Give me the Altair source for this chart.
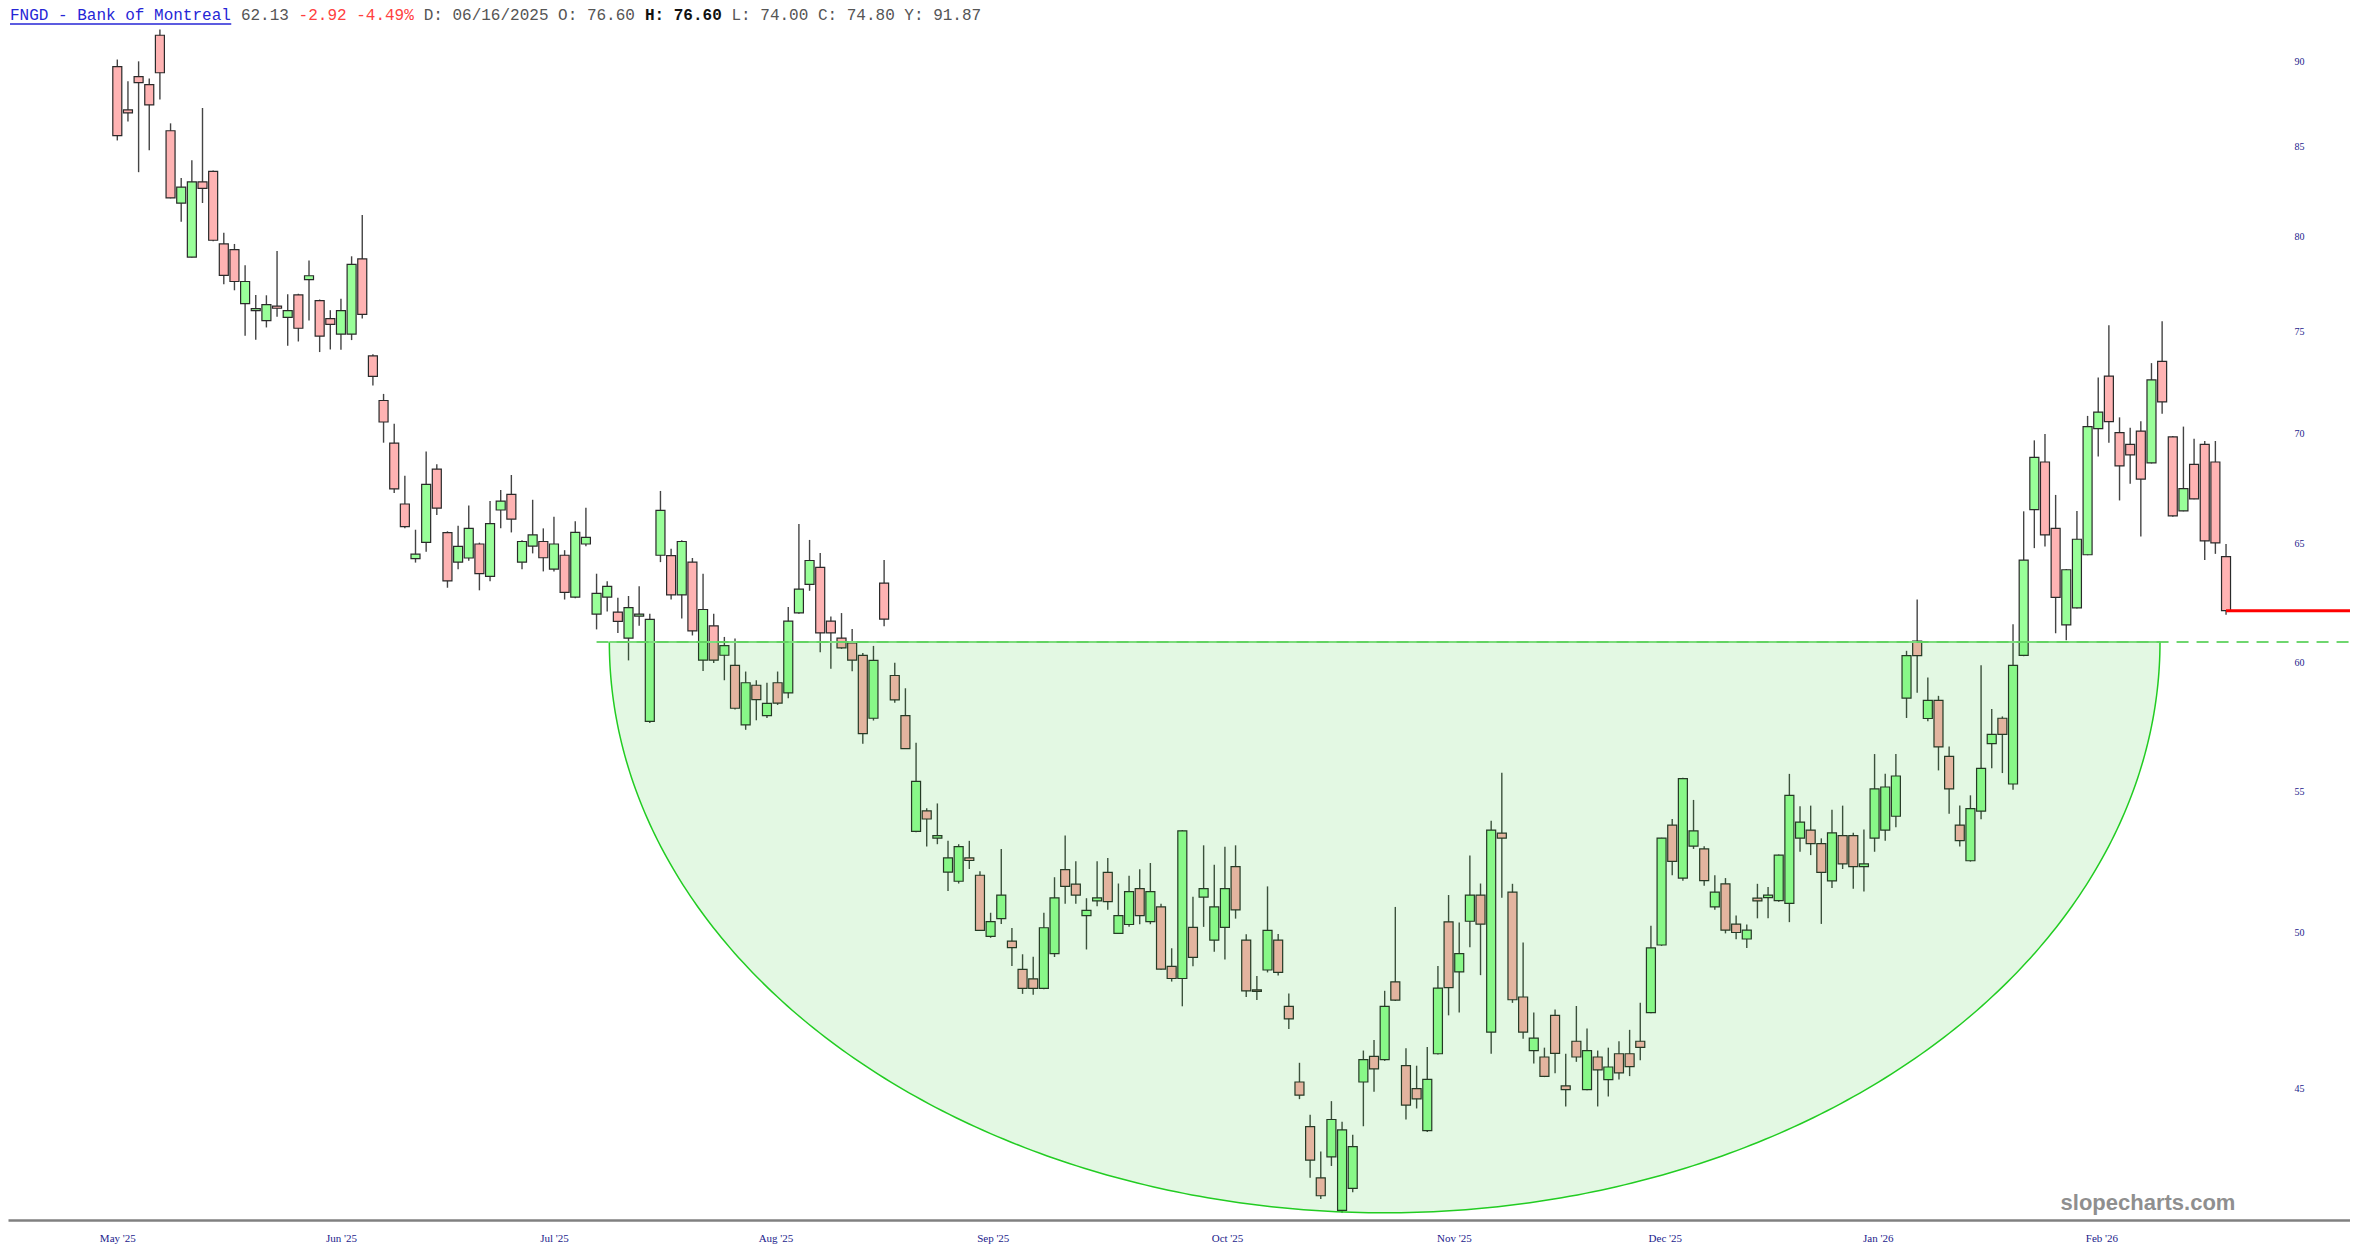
import numpy as np
import pandas as pd
import altair as alt

# ---------------- data ----------------
opens = [89.70, 87.12, 89.10, 88.62, 91.62, 85.90, 81.80, 78.88, 82.99, 83.58,
         79.58, 79.28, 76.44, 76.08, 75.57, 76.31, 75.73, 76.89, 77.69, 76.59,
         75.67, 74.88, 74.88, 78.78, 73.79, 71.60, 69.57, 66.77, 64.35, 65.06,
         68.36, 65.49, 64.20, 64.38, 64.99, 63.59, 66.50, 67.20, 64.20, 64.90,
         65.10, 63.90, 64.50, 62.70, 64.99, 61.99, 62.70, 62.07, 60.99, 61.90,
         57.66, 64.50, 64.48, 62.80, 64.20, 60.09, 61.50, 60.29, 59.88, 57.52,
         59.08, 57.88, 59.18, 58.78, 62.04, 63.24, 63.97, 61.69, 60.99, 60.79,
         60.28, 57.78, 63.30, 59.47, 57.88, 53.53, 54.28, 53.29, 52.08, 51.76,
         52.58, 51.97, 49.87, 50.47, 49.71, 48.77, 48.46, 48.15, 49.29, 52.17,
         51.66, 50.57, 51.08, 52.07, 49.97, 50.27, 51.50, 50.37, 50.87, 48.87,
         48.47, 50.17, 51.21, 49.74, 50.17, 52.27, 49.74, 48.10, 48.75, 49.74,
         47.57, 45.20, 43.86, 42.37, 42.97, 41.45, 42.07, 45.20, 45.99, 45.89,
         48.36, 45.70, 45.00, 43.74, 46.07, 50.36, 48.69, 50.38, 51.28, 46.75,
         53.47, 51.38, 47.87, 46.17, 45.97, 47.28, 45.08, 46.46, 44.97, 45.97,
         45.27, 46.07, 46.07, 46.46, 47.37, 49.58, 53.76, 51.87, 53.00, 52.90,
         50.87, 51.67, 50.28, 49.78, 51.17, 51.19, 51.09, 50.99, 53.29, 53.58,
         53.09, 51.77, 53.38, 53.38, 52.27, 53.29, 53.58, 54.08, 58.57, 60.87,
         57.77, 58.48, 56.31, 53.76, 52.48, 54.27, 56.80, 57.78, 55.27, 60.28,
         66.52, 68.69, 65.68, 61.54, 62.25, 64.52, 70.25, 72.79, 70.06, 69.51,
         70.14, 68.65, 73.52, 69.86, 66.46, 68.58, 69.51, 68.69, 64.44]
highs = [90.13, 88.82, 90.02, 88.98, 91.97, 86.33, 83.20, 84.20, 87.23, 83.62,
         80.19, 79.58, 78.45, 76.89, 76.87, 79.20, 76.93, 76.95, 78.70, 76.65,
         76.10, 76.69, 78.92, 81.15, 73.87, 71.92, 70.48, 68.06, 65.62, 69.18,
         68.59, 65.55, 65.80, 66.70, 65.05, 66.90, 67.40, 68.09, 65.15, 66.96,
         65.68, 66.20, 64.72, 66.00, 66.60, 63.70, 63.38, 62.68, 62.75, 63.16,
         62.00, 67.36, 64.78, 65.15, 64.38, 63.70, 62.00, 61.04, 60.97, 59.63,
         59.28, 59.18, 59.63, 62.28, 65.87, 65.17, 64.60, 61.89, 62.03, 61.37,
         60.38, 60.67, 64.29, 59.98, 58.96, 56.83, 54.37, 54.55, 53.19, 53.07,
         53.19, 52.11, 50.67, 52.90, 50.15, 49.27, 49.19, 50.67, 51.90, 53.38,
         52.46, 51.17, 52.46, 52.58, 51.68, 51.95, 52.18, 52.40, 50.98, 49.47,
         53.58, 51.22, 53.03, 52.34, 52.98, 53.03, 49.94, 48.55, 51.58, 49.95,
         47.98, 45.79, 44.21, 43.13, 44.62, 44.00, 43.62, 46.17, 46.50, 48.07,
         50.87, 46.24, 45.70, 46.28, 48.88, 51.28, 50.34, 52.67, 51.68, 53.92,
         55.69, 51.67, 49.66, 47.37, 46.26, 47.47, 46.07, 47.58, 46.86, 46.17,
         46.26, 46.46, 46.82, 47.68, 50.23, 53.30, 53.98, 55.50, 54.68, 53.00,
         51.97, 51.87, 50.58, 50.27, 51.67, 51.56, 52.70, 55.65, 54.45, 54.47,
         53.28, 54.32, 54.47, 53.48, 53.60, 56.40, 55.65, 56.40, 60.47, 62.60,
         59.39, 58.66, 56.69, 54.47, 54.85, 59.88, 58.14, 57.85, 61.56, 66.44,
         69.70, 70.00, 67.18, 63.90, 66.45, 70.86, 72.72, 75.33, 70.79, 70.30,
         70.60, 73.43, 75.53, 69.90, 70.35, 69.77, 69.67, 69.67, 64.99]
lows = [85.34, 86.44, 83.53, 84.78, 87.73, 82.07, 80.78, 78.86, 81.81, 79.72,
        77.45, 77.13, 74.80, 74.60, 75.22, 75.77, 74.29, 74.51, 75.57, 73.98,
        74.11, 74.09, 74.58, 75.67, 72.33, 69.59, 67.27, 65.68, 64.18, 64.65,
        66.28, 63.10, 63.89, 64.26, 62.99, 63.38, 65.68, 65.50, 63.89, 64.58,
        63.80, 63.80, 62.60, 62.65, 64.89, 61.35, 62.10, 61.20, 60.08, 61.50,
        57.59, 64.20, 62.60, 61.80, 61.10, 59.65, 59.97, 59.28, 58.12, 57.33,
        57.70, 57.79, 58.30, 58.56, 62.00, 62.97, 60.41, 59.74, 60.55, 59.64,
        56.79, 57.69, 61.48, 58.39, 56.60, 53.50, 52.99, 53.07, 51.42, 51.68,
        52.19, 50.05, 49.82, 50.29, 48.88, 47.97, 47.94, 48.12, 49.18, 50.98,
        50.98, 49.43, 50.89, 50.77, 49.95, 50.19, 50.28, 50.28, 48.76, 48.37,
        47.57, 48.87, 50.19, 49.35, 49.10, 50.47, 47.87, 47.77, 48.67, 48.57,
        46.85, 44.68, 42.37, 41.77, 42.71, 41.38, 41.96, 43.87, 44.90, 45.85,
        47.74, 44.07, 44.40, 43.70, 46.05, 47.28, 47.37, 49.50, 48.58, 46.07,
        51.19, 47.68, 46.54, 45.77, 45.35, 45.47, 44.46, 45.82, 44.95, 44.46,
        44.76, 45.28, 45.38, 45.87, 47.35, 49.55, 51.97, 51.78, 52.90, 51.60,
        50.77, 49.97, 49.77, 49.48, 50.48, 50.48, 51.05, 50.35, 52.80, 52.68,
        50.29, 51.52, 52.19, 51.50, 51.40, 52.80, 53.19, 53.68, 57.79, 58.78,
        57.66, 55.78, 54.17, 52.99, 52.45, 53.97, 55.86, 55.68, 55.06, 60.25,
        64.81, 64.88, 61.19, 60.90, 62.22, 64.50, 68.95, 69.59, 66.93, 67.69,
        65.32, 68.62, 70.96, 66.20, 66.44, 66.98, 64.29, 64.56, 61.96]
closes = [85.62, 86.94, 88.73, 87.41, 89.33, 82.09, 82.69, 82.99, 82.62, 79.78,
          77.91, 77.59, 77.59, 76.18, 76.39, 76.20, 76.08, 75.18, 77.89, 74.78,
          75.38, 76.08, 78.49, 75.89, 72.78, 70.57, 67.45, 65.76, 64.55, 67.66,
          66.58, 63.39, 64.89, 65.68, 63.70, 65.89, 66.90, 66.09, 65.10, 65.39,
          64.39, 64.99, 62.90, 65.50, 65.28, 62.86, 63.16, 61.68, 62.26, 61.99,
          61.77, 66.48, 62.80, 65.10, 61.29, 62.18, 60.09, 60.68, 58.17, 59.18,
          58.51, 58.36, 58.37, 61.69, 63.04, 64.27, 61.21, 61.21, 60.59, 60.09,
          57.18, 60.08, 61.78, 58.50, 56.61, 55.37, 53.98, 53.38, 52.58, 52.98,
          52.49, 50.07, 50.37, 51.28, 49.49, 48.15, 48.15, 50.16, 51.18, 51.58,
          51.28, 50.75, 51.18, 51.05, 50.57, 51.40, 50.57, 51.40, 48.78, 48.47,
          53.55, 49.17, 51.50, 50.87, 51.50, 50.77, 48.07, 48.05, 50.07, 48.67,
          47.17, 44.80, 42.88, 41.86, 44.07, 43.76, 43.27, 45.89, 45.60, 47.57,
          47.77, 44.50, 44.69, 45.28, 48.16, 48.17, 49.29, 51.28, 50.28, 53.58,
          53.29, 47.78, 46.75, 46.56, 45.37, 46.08, 44.97, 45.97, 46.17, 45.57,
          45.66, 45.48, 45.67, 46.27, 49.48, 53.29, 52.46, 55.47, 53.55, 51.78,
          51.38, 50.08, 50.00, 50.08, 51.08, 51.28, 52.68, 54.85, 53.87, 53.09,
          52.07, 53.48, 52.37, 52.27, 52.37, 55.09, 55.16, 55.57, 60.27, 60.27,
          58.48, 56.67, 55.09, 53.20, 54.36, 55.86, 57.15, 57.15, 59.88, 64.29,
          68.90, 65.39, 62.69, 63.87, 65.20, 70.35, 71.04, 70.59, 68.51, 69.02,
          67.90, 72.60, 71.53, 66.24, 67.47, 67.00, 65.13, 65.04, 62.13]

# x-axis month labels and the bar index where each one sits
month_labels = ["May '25", "Jun '25", "Jul '25", "Aug '25", "Sep '25",
                "Oct '25", "Nov '25", "Dec '25", "Jan '26", "Feb '26"]
month_pos = [0, 21, 41, 61.8, 82.2, 104.2, 125.5, 145.3, 165.3, 186.3]
price_ticks = [45, 50, 55, 60, 65, 70, 75, 80, 85, 90]

# annotations
neckline = 60.83          # dashed resistance level
last_close = 62.13
bowl_left, bowl_right = 46.2, 191.8
bowl_bottom = 41.38
dash_start = 45.0

# ---------------- layout ----------------
W, H = 2342, 1212
X_DOMAIN = [-10.263, 209.64]
Y_DOMAIN = [41.18, 93.32]

xs = alt.Scale(domain=X_DOMAIN, nice=False, zero=False, padding=0)
ys = alt.Scale(type="log", domain=Y_DOMAIN, nice=False, zero=False)

df = pd.DataFrame({"idx": np.arange(len(opens)), "open": opens, "high": highs,
                   "low": lows, "close": closes})
df["up"] = df["close"] >= df["open"]

label_expr = " : ".join(
    f'datum.value == {p} ? "{l}"' for p, l in zip(month_pos, month_labels)
) + ' : ""'

x_axis = alt.Axis(values=month_pos, labelExpr=label_expr, grid=False, ticks=False,
                  tickSize=0, domain=True, domainColor="#808080", domainWidth=2.5,
                  labelFont="Liberation Serif", labelFontSize=11, labelColor="#1c1c8c",
                  labelPadding=12, title=None, labelFlush=False, labelOverlap=False,
                  orient="bottom")
y_axis = alt.Axis(values=price_ticks, orient="right", offset=-58, grid=False, ticks=False,
                  tickSize=0, domain=False, labelFont="Liberation Serif", labelFontSize=10,
                  labelColor="#1c1c8c", labelPadding=2, labelAlign="left", title=None,
                  labelOverlap=False)


def X(field):
    return alt.X(field, type="quantitative", scale=xs, axis=x_axis)


def Y(field):
    return alt.Y(field, type="quantitative", scale=ys, axis=y_axis)


base = alt.Chart(df)

wicks = base.mark_rule(color="#444444", strokeWidth=1.4).encode(
    x=X("idx"), y=Y("low"), y2="high")

bodies = base.mark_bar(size=9, stroke="#2a2a2a", strokeWidth=1.2).encode(
    x=X("idx"), y=Y("open"), y2="close",
    fill=alt.condition("datum.up", alt.value("#99ff99"), alt.value("#ffb3b3")),
)

# bowl (half ellipse in screen space, computed from its bounding parameters)
t = np.linspace(0, np.pi, 301)
cx = (bowl_left + bowl_right) / 2
ax_ = (bowl_right - bowl_left) / 2
lt, lb = np.log(neckline), np.log(bowl_bottom)
bowl = pd.DataFrame({
    "bx": cx - ax_ * np.cos(t),
    "by": np.exp(lt - (lt - lb) * np.sin(t)),
    "btop": neckline,
})

bowl_fill = alt.Chart(bowl).mark_area(color="#00be00", opacity=0.11).encode(
    x=X("bx"), y=Y("by"), y2="btop")
bowl_line = alt.Chart(bowl).mark_line(color="#22cc22", strokeWidth=1.5).encode(
    x=X("bx"), y=Y("by"))

lines_df = pd.DataFrame({
    "x1": [bowl_left, dash_start, len(opens) - 1],
    "x2": [bowl_right, X_DOMAIN[1], X_DOMAIN[1]],
    "y": [neckline, neckline, last_close],
    "kind": ["chord", "dash", "last"],
})
chord = alt.Chart(lines_df).transform_filter("datum.kind == 'chord'").mark_rule(
    color="#7ddc7d", strokeWidth=2).encode(x=X("x1"), x2="x2", y=Y("y"))
dash = alt.Chart(lines_df).transform_filter("datum.kind == 'dash'").mark_rule(
    color="#5fd25f", strokeWidth=2.2, strokeDash=[12, 8], opacity=0.9).encode(
    x=X("x1"), x2="x2", y=Y("y"))
last_line = alt.Chart(lines_df).transform_filter("datum.kind == 'last'").mark_rule(
    color="#ff0000", strokeWidth=3).encode(x=X("x1"), x2="x2", y=Y("y"))

# ---------------- header text ----------------
header = [
    ("FNGD - Bank of Montreal", "#2626d6", "normal"),
    ("62.13", "#555555", "normal"),
    ("-2.92 -4.49%", "#ff4040", "normal"),
    ("D: 06/16/2025 O: 76.60", "#555555", "normal"),
    ("H: 76.60", "#111111", "bold"),
    ("L: 74.00 C: 74.80 Y: 91.87", "#555555", "normal"),
]
CHAR_W = 9.62
X0 = 2
dummy = pd.DataFrame({"a": [0]})
texts = []
pos = 0
for txt, col, wt in header:
    texts.append(alt.Chart(dummy).mark_text(
        text=txt, font="Liberation Mono", fontSize=16, color=col, fontWeight=wt,
        align="left", baseline="middle").encode(
        x=alt.value(X0 + pos * CHAR_W), y=alt.value(7)))
    pos += len(txt) + 1
underline = alt.Chart(dummy).mark_rule(color="#2626d6", strokeWidth=1.5).encode(
    x=alt.value(X0), x2=alt.value(X0 + len(header[0][0]) * CHAR_W), y=alt.value(16))

watermark = alt.Chart(dummy).mark_text(
    text="slopecharts.com", font="Liberation Sans", fontSize=22, fontWeight="bold",
    color="#8f8f8f", align="center", baseline="middle").encode(
    x=alt.value(2140), y=alt.value(1195))

chart = alt.layer(
    wicks, bodies, bowl_fill, bowl_line, chord, dash, last_line,
    *texts, underline, watermark
).properties(
    width=W, height=H,
    autosize=alt.AutoSizeParams(type="none"),
    padding={"left": 0, "top": 0, "right": 0, "bottom": 40},
    background="white",
).configure_view(stroke=None)

chart.save("out.html", embed_options={"renderer": "svg", "actions": False})
